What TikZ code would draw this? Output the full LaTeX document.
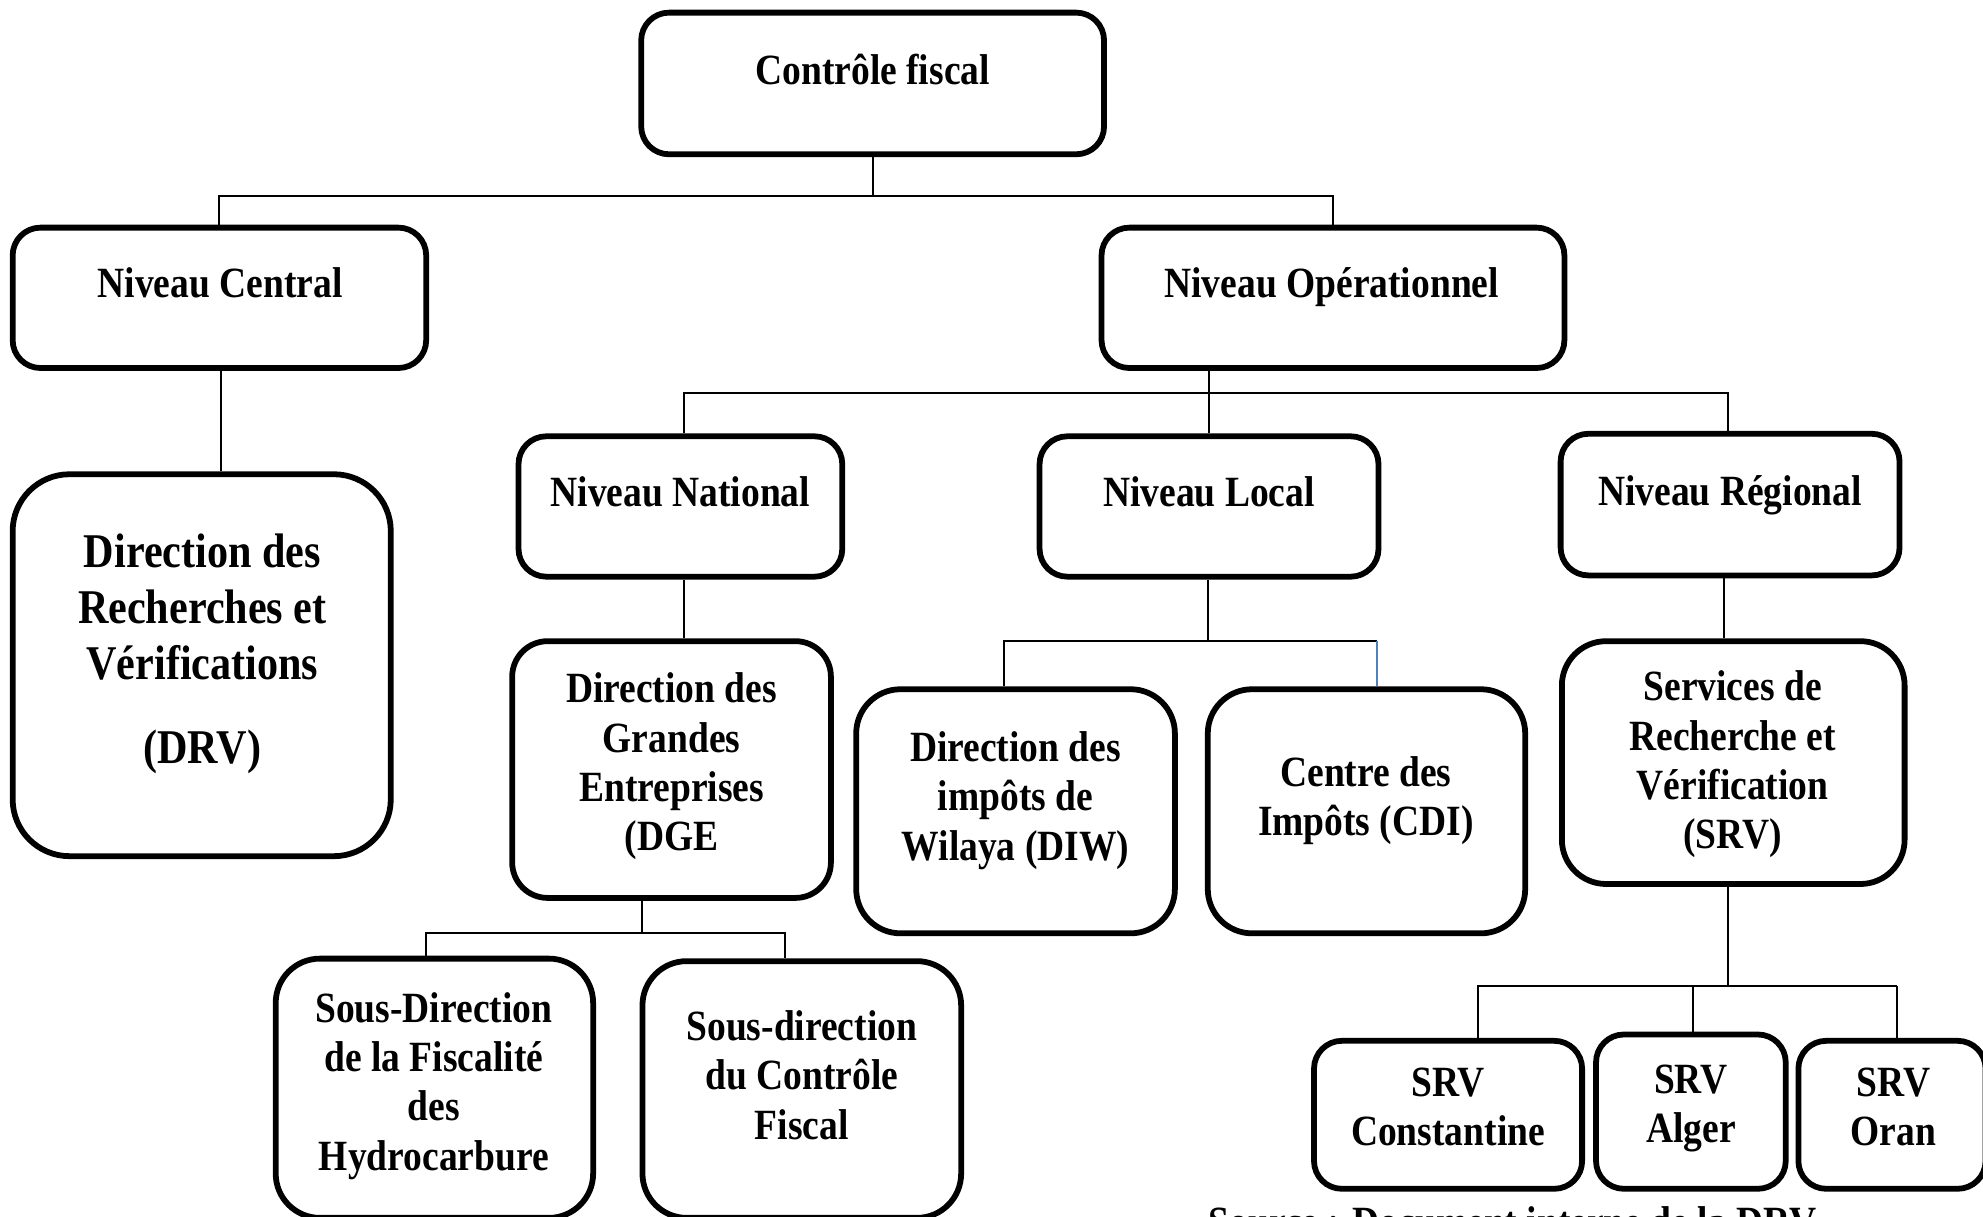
\documentclass[tikz,border=0pt]{standalone}
\usepackage{fontspec}
\setmainfont[FakeStretch=0.87]{Liberation Serif}
\definecolor{linkblue}{RGB}{79,129,189}
\begin{document}
\begin{tikzpicture}[
    box/.style={draw, line width=1.3pt, rounded corners=0.22cm, inner sep=0pt},
    txt/.style={align=center, inner sep=0pt, font=\fontsize{9.7}{11.1}\selectfont\bfseries},
    bigtxt/.style={align=center, inner sep=0pt, font=\fontsize{10.9}{12.65}\selectfont\bfseries},
    link/.style={line width=0.45pt}
  ]
    \useasboundingbox (0,0) rectangle (15.68,-9.62);
    \clip (0,0) rectangle (15.68,-9.62);
    % boxes
    \node [box, minimum width=3.66cm, minimum height=1.12cm] (ctrl) at (6.90,-0.66) {};
    \node [txt] (ctrl-t) at (6.90,-0.55) {Contrôle fiscal};
    \node [box, minimum width=3.27cm, minimum height=1.11cm] (central) at (1.735,-2.355) {};
    \node [txt] (central-t) at (1.74,-2.24) {Niveau Central};
    \node [box, minimum width=3.66cm, minimum height=1.11cm] (oper) at (10.54,-2.355) {};
    \node [txt] (oper-t) at (10.53,-2.27) {Niveau Opérationnel};
    \node [box, rounded corners=0.45cm, minimum width=2.99cm, minimum height=3.02cm] (drv) at (1.595,-5.26) {};
    \node [bigtxt] (drv-t) at (1.60,-5.17) {Direction des\\ Recherches et\\ Vérifications\\[0.22cm] (DRV)};
    \node [box, minimum width=2.56cm, minimum height=1.11cm] (natl) at (5.38,-4.005) {};
    \node [txt] (natl-t) at (5.38,-3.89) {Niveau National};
    \node [box, minimum width=2.68cm, minimum height=1.11cm] (local) at (9.56,-4.005) {};
    \node [txt] (local-t) at (9.56,-3.89) {Niveau Local};
    \node [box, minimum width=2.68cm, minimum height=1.12cm] (regl) at (13.68,-3.99) {};
    \node [txt] (regl-t) at (13.68,-3.92) {Niveau Régional};
    \node [box, rounded corners=0.28cm, minimum width=2.52cm, minimum height=2.03cm] (dge) at (5.31,-6.085) {};
    \node [txt] (dge-t) at (5.31,-6.06) {Direction des\\ Grandes\\ Entreprises\\ (DGE};
    \node [box, rounded corners=0.35cm, minimum width=2.52cm, minimum height=1.93cm] (diw) at (8.03,-6.415) {};
    \node [txt] (diw-t) at (8.03,-6.33) {Direction des\\ impôts de\\ Wilaya (DIW)};
    \node [box, rounded corners=0.35cm, minimum width=2.51cm, minimum height=1.93cm] (cdi) at (10.805,-6.415) {};
    \node [txt] (cdi-t) at (10.80,-6.33) {Centre des\\ Impôts (CDI)};
    \node [box, rounded corners=0.35cm, minimum width=2.71cm, minimum height=1.92cm] (srv) at (13.705,-6.03) {};
    \node [txt] (srv-t) at (13.70,-6.045) {Services de\\ Recherche et\\ Vérification\\ (SRV)};
    \node [box, rounded corners=0.35cm, minimum width=2.51cm, minimum height=2.05cm] (sdh) at (3.435,-8.605) {};
    \node [txt] (sdh-t) at (3.43,-8.585) {Sous-Direction\\ de la Fiscalité\\ des\\ Hydrocarbure};
    \node [box, rounded corners=0.35cm, minimum width=2.52cm, minimum height=2.03cm] (sdcf) at (6.34,-8.615) {};
    \node [txt] (sdcf-t) at (6.34,-8.50) {Sous-direction\\ du Contrôle\\ Fiscal};
    \node [box, minimum width=2.12cm, minimum height=1.17cm] (srvc) at (11.45,-8.815) {};
    \node [txt] (srvc-t) at (11.45,-8.755) {SRV\\ Constantine};
    \node [box, minimum width=1.50cm, minimum height=1.22cm] (srva) at (13.37,-8.79) {};
    \node [txt] (srva-t) at (13.37,-8.765) {SRV\\ Alger};
    \node [box, minimum width=1.48cm, minimum height=1.17cm] (srvo) at (14.96,-8.815) {};
    \node [txt] (srvo-t) at (14.97,-8.755) {SRV\\ Oran};
    \node [txt, anchor=base west] (source) at (9.55,-9.78) {Source : Document interne de la DRV};
    % connectors
    \draw [link] (ctrl.south) -- (ctrl.south |- 0,-1.55);
    \draw [link] (central.north) -- (central.north |- 0,-1.55) -| (oper.north);
    \draw [link] ([xshift=0.015cm]central.south) -- ([xshift=0.015cm]central.south |- drv.north);
    \draw [link] (local.north) -- (local.north |- oper.south);
    \draw [link] ([xshift=0.03cm]natl.north) -- ([xshift=0.03cm]natl.north |- 0,-3.11) -| ([xshift=-0.02cm]regl.north);
    \draw [link] ([xshift=0.03cm]natl.south) -- ([xshift=0.03cm]natl.south |- dge.north);
    \draw [link] ([xshift=-0.01cm]local.south) -- ([xshift=-0.01cm]local.south |- 0,-5.07);
    \draw [link] ([xshift=-0.09cm]diw.north) -- ([xshift=-0.09cm]diw.north |- 0,-5.07) -- ([xshift=0.085cm]cdi.north |- 0,-5.07);
    \draw [link, linkblue] ([xshift=0.085cm]cdi.north |- 0,-5.07) -- ([xshift=0.085cm]cdi.north);
    \draw [link] ([xshift=-0.045cm]regl.south) -- ([xshift=-0.045cm]regl.south |- srv.north);
    \draw [link] ([xshift=-0.23cm]dge.south) -- ([xshift=-0.23cm]dge.south |- 0,-7.38);
    \draw [link] ([xshift=-0.065cm]sdh.north) -- ([xshift=-0.065cm]sdh.north |- 0,-7.38) -| ([xshift=-0.13cm]sdcf.north);
    \draw [link] ([xshift=-0.045cm]srv.south) -- ([xshift=-0.045cm]srv.south |- 0,-7.80);
    \draw [link] ([xshift=0.24cm]srvc.north) -- ([xshift=0.24cm]srvc.north |- 0,-7.80) -- ([xshift=0.04cm]srvo.north |- 0,-7.80);
    \draw [link] ([xshift=0.02cm]srva.north) -- ([xshift=0.02cm]srva.north |- 0,-7.80);
    \draw [link] ([xshift=0.04cm]srvo.north) -- ([xshift=0.04cm]srvo.north |- 0,-7.80);
\end{tikzpicture}
\end{document}
